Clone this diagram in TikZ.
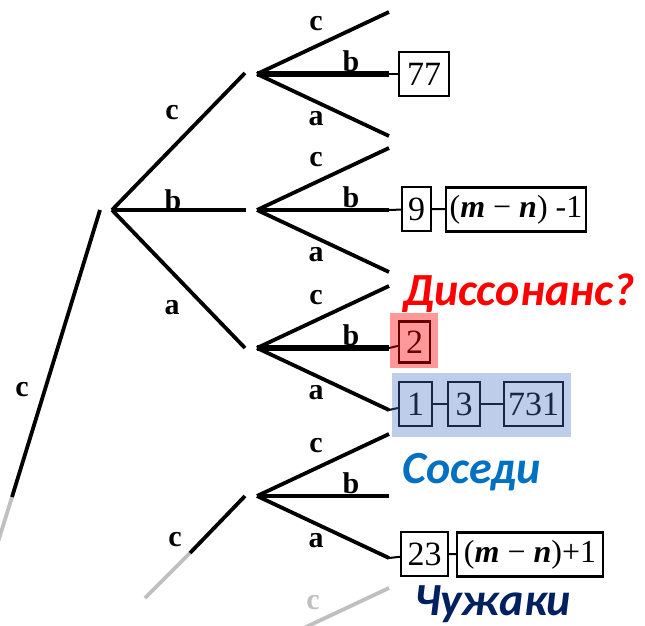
\documentclass[tikz,border=0pt]{standalone}
\usepackage{fontspec}
\setmainfont{Liberation Serif}
\newfontfamily\notefont{Carlito}
\definecolor{noteblue}{RGB}{0,112,192}
\definecolor{notenavy}{RGB}{0,32,96}
\definecolor{hlblue}{RGB}{68,114,196}
\begin{document}
\begin{tikzpicture}[x=1pt,y=-1pt,
  edge/.style={line width=3.8pt},
  heavyedge/.style={line width=5.2pt},
  faded/.style={line width=3.8pt, draw=black!25},
  lbl/.style={font=\fontsize{30}{30}\selectfont\bfseries, inner sep=0pt},
  fadedlbl/.style={lbl, text=black!25},
  key/.style={draw, line width=2.3pt, inner sep=0pt, minimum height=44pt,
    font=\fontsize{34}{34}\selectfont},
  link/.style={line width=2pt},
  note/.style={font=\notefont\fontsize{46}{46}\selectfont\bfseries\itshape,
    anchor=base west, inner sep=0pt}
]
\useasboundingbox (0,0) rectangle (645,626);
\clip (0,0) rectangle (645,626);

% root edge, fading out towards the bottom
\coordinate (r0) at (-6,555);
\coordinate (r1) at (12,497);
\coordinate (r2) at (100,210);
\draw[faded] (r0) -- (r1);
\draw[edge] (r1) -- (r2);
\node[lbl] (lr) at (22,390) {c};

% first level
\coordinate (v1) at (112,210);
\coordinate (e1c) at (245,73);
\coordinate (e1b) at (246,210);
\coordinate (e1a) at (245,348);
\draw[edge] (v1) -- (e1c);
\draw[edge] (v1) -- (e1b);
\draw[edge] (v1) -- (e1a);
\node[lbl] (l1c) at (172,113) {c};
\node[lbl] (l1b) at (173,200) {b};
\node[lbl] (l1a) at (172,308) {a};

% edge into the fourth branching point
\coordinate (f0) at (145,598);
\coordinate (f1) at (190,553);
\coordinate (f2) at (245,496);
\draw[faded] (f0) -- (f1);
\draw[edge] (f1) -- (f2);
\node[lbl] (l4in) at (175,540) {c};

% second level branching points and leaves
\foreach \i/\y in {1/74,2/210,3/348,4/496}{
  \coordinate (g\i) at (257,\y);
  \coordinate (g\i c) at (389,\y-62);
  \coordinate (g\i b) at (389,\y);
  \coordinate (g\i a) at (389,\y+62);
  \node[lbl] (lg\i c) at (316,\y-50) {c};
  \node[lbl] (lg\i b) at (351,\y-13) {b};
  \node[lbl] (lg\i a) at (316,\y+45) {a};
}
\draw[edge] (g1) -- (g1c);
\draw[heavyedge] (g1) -- (g1b);
\draw[edge] (g1) -- (g1a);
\draw[edge] (g2) -- (g2c);
\draw[edge] (g2) -- (g2b);
\draw[edge] (g2) -- (g2a);
\draw[edge] (g3) -- (g3c);
\draw[heavyedge] (g3) -- (g3b);
\draw[edge] (g3) -- (g3a);
\draw[edge] (g4) -- (g4c);
\draw[edge] (g4) -- (g4b);
\draw[edge] (g4) -- (g4a);

% branch continuing below the frame
\coordinate (g5) at (257,650);
\coordinate (g5c) at (389,588);
\draw[faded] (g5) -- (g5c);
\node[fadedlbl] (lg5c) at (313,603) {c};

% leaf lists
\node[key, minimum width=50pt] (k77) at (424,74) {77};
\draw[link] (g1b) -- (k77);

\node[key, minimum width=29pt] (k9) at (416.5,209) {9};
\node[key, minimum width=140pt, font=\fontsize{32}{32}\selectfont] (kmn1) at (516,209.5)
  {(\textbf{\textit{m}} − \textbf{\textit{n}}) -1};
\draw[link] (g2b) -- (k9);
\draw[link] (k9) -- (kmn1);

\node[key, minimum width=31pt, minimum height=41pt] (k2) at (414.5,342) {2};
\draw[link] (g3b) -- (k2);

\node[key, minimum width=33pt] (k1) at (415.5,404) {1};
\node[key, minimum width=32pt] (k3) at (464,404) {3};
\node[key, minimum width=59pt] (k731) at (533.5,404) {731};
\draw[link] (g3a) -- (k1);
\draw[link] (k1) -- (k3);
\draw[link] (k3) -- (k731);

\node[key, minimum width=47pt] (k23) at (424.5,554) {23};
\node[key, minimum width=146pt, font=\fontsize{32}{32}\selectfont] (kmn2) at (530,554.5)
  {(\textbf{\textit{m}} − \textbf{\textit{n}})+1};
\draw[link] (g4a) -- (k23);
\draw[link] (k23) -- (kmn2);

% highlights
\fill[red, opacity=0.4] (390,313) rectangle (438,368);
\fill[hlblue, opacity=0.35] (392,373) rectangle (571,437);

% annotations
\node[note, text=red] (dis) at (403,305) {Диссонанс?};
\node[note, text=noteblue] (sos) at (402,483) {Соседи};
\node[note, text=notenavy] (chu) at (414,615) {Чужаки};
\end{tikzpicture}
\end{document}
